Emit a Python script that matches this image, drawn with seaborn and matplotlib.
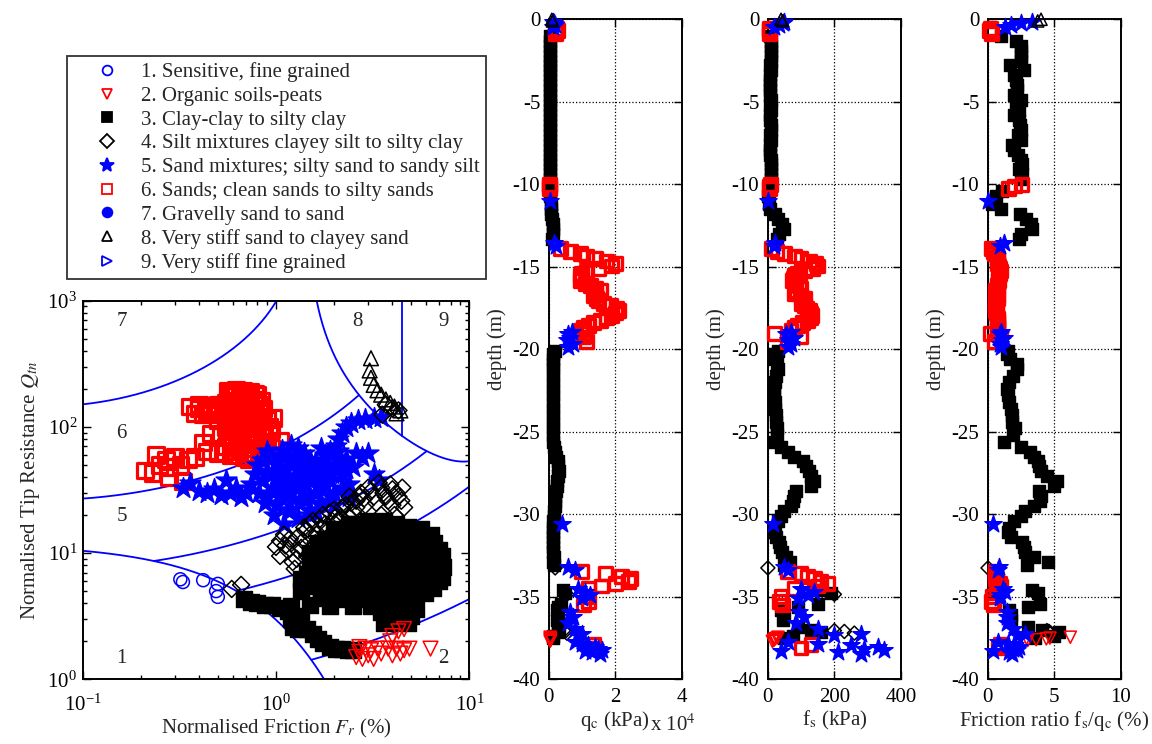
import numpy as np
import pandas as pd
import matplotlib
matplotlib.use("Agg")
import matplotlib.pyplot as plt
from matplotlib.lines import Line2D
from matplotlib.ticker import FuncFormatter, LogLocator, NullFormatter
import seaborn as sns

# ---------------- data ----------------
zone_names = ["1. Sensitive, fine grained",
              "2. Organic soils-peats",
              "3. Clay-clay to silty clay",
              "4. Silt mixtures clayey silt to silty clay",
              "5. Sand mixtures; silty sand to sandy silt",
              "6. Sands; clean sands to silty sands",
              "7. Gravelly sand to sand",
              "8. Very stiff sand to clayey sand",
              "9. Very stiff fine grained"]

# Robertson chart boundaries (Ic contours, zone 1 and zone 8/9 limits)
ic_limits = [1.31, 2.05, 2.60, 2.95, 3.60]
fr_zone89_split = 4.5

# CPT profile per soil zone: depth (m), qc (kPa), fs (kPa)
depth_z3 = [1.0, 1.3, 1.6, 1.9, 2.2, 2.5, 2.8, 3.1, 3.4, 3.7,
            4.0, 4.3, 4.6, 4.9, 5.2, 5.5, 5.8, 6.1, 6.4, 6.7,
            7.0, 7.3, 7.6, 7.9, 8.2, 8.5, 8.8, 9.1, 9.4, 9.7,
            10.4, 10.7, 11.2, 11.5, 11.8, 12.1, 12.4, 12.7, 13.0, 13.3,
            20.1, 20.3, 20.6, 20.9, 21.2, 21.6, 22.0, 22.4, 22.8, 23.2,
            23.6, 24.0, 24.4, 24.8, 25.2, 25.6, 25.9, 26.2, 26.5, 26.8,
            27.1, 27.4, 27.7, 28.0, 28.3, 28.6, 28.9, 29.2, 29.5, 29.8,
            30.1, 30.4, 30.8, 31.1, 31.4, 31.7, 32.0, 32.3, 32.6, 32.9,
            33.1, 34.6, 34.75, 35.45, 35.6, 35.8, 36.1, 36.4, 36.85, 37.0,
            37.15, 37.35, 37.5]
qc_z3 = [600, 420, 380, 360, 350, 340, 360, 350, 330, 350,
         340, 360, 350, 340, 350, 360, 350, 340, 350, 360,
         350, 340, 350, 360, 350, 340, 350, 360, 350, 340,
         330, 340, 700, 800, 900, 1100, 1300, 1500, 1400, 1200,
         2000, 1500, 1300, 1300, 1400, 1300, 1300, 1400, 1300, 1400,
         1300, 1400, 1300, 1400, 1400, 1500, 1600, 1900, 2300, 2800,
         3000, 3100, 2900, 2700, 2600, 2200, 2000, 1900, 2000, 1800,
         1600, 1500, 1400, 1300, 1400, 1300, 1400, 1500, 1600, 1500,
         1700, 4500, 5000, 3800, 3000, 2500, 2800, 2600, 3000, 3200,
         3000, 1500, 1400]
fs_z3 = [6, 9, 9.5, 9, 8.8, 8.5, 6, 9.5, 6.5, 7.5,
         7.5, 8, 7, 8.5, 7.5, 8.5, 7, 8, 8.5, 9,
         8, 8.5, 6.5, 7, 8, 8.5, 9, 8.5, 9, 8.5,
         3.5, 2, 2.5, 8, 22, 32, 42, 50, 35, 28,
         30, 22, 22, 29, 31, 25, 21, 20, 20, 22,
         23, 26, 24, 29, 27, 18, 40, 60, 80, 105,
         115, 125, 130, 140, 130, 85, 80, 75, 70, 50,
         40, 30, 22, 20, 24, 33, 38, 42, 55, 68,
         50, 150, 190, 150, 90, 40, 48, 45, 90, 130,
         160, 75, 50]

depth_z6 = [0.55, 0.70, 0.85, 10.0, 10.1, 10.25,
            13.90, 14.05, 14.20, 14.35, 14.50, 14.65, 14.80, 14.95, 15.10, 15.25,
            15.40, 15.55, 15.70, 15.85, 16.00, 16.15, 16.30, 16.45, 16.60, 16.75,
            16.90, 17.05, 17.20, 17.35, 17.50, 17.65, 17.80, 17.95, 18.10, 18.25,
            18.40, 18.55, 18.70, 18.85, 19.05, 19.25, 19.55,
            33.45, 33.6, 33.75, 33.9, 34.05, 34.2, 34.35, 34.5, 35.0, 35.3, 35.5, 37.9, 38.1]
qc_z6 = [2500, 2800, 2000, 350, 300, 320,
         3500, 6500, 9500, 11500, 14000, 17500, 20000, 19000, 15000, 11500,
         10000, 9500, 10000, 9500, 11000, 12500, 14000, 15500, 14000, 13500,
         14500, 15000, 16500, 18500, 20500, 21000, 20000, 19000, 17500, 15500,
         13500, 12000, 10500, 9500, 11000, 10500, 11500,
         10000, 17000, 22000, 24500, 24000, 20000, 16000, 12000, 11500, 12000, 10500, 13500, 12500]
fs_z6 = [5, 4, 6, 9, 6, 5,
         10, 28, 50, 80, 100, 125, 145, 150, 135, 110,
         90, 80, 78, 75, 85, 95, 98, 85, 80, 100,
         112, 105, 100, 110, 118, 125, 130, 132, 128, 120,
         105, 90, 80, 70, 20, 100, 60,
         60, 100, 120, 140, 160, 180, 150, 80, 40, 35, 45, 130, 100]

depth_z5 = [0.15, 0.25, 0.35, 0.45, 11.0, 13.55, 13.75,
            18.95, 19.1, 19.3, 19.45, 19.65, 19.85, 30.6, 33.2, 33.35,
            34.5, 34.7, 34.9, 35.1, 35.9, 36.25, 36.6, 36.95, 37.25, 37.3,
            37.75, 37.85, 37.95, 38.05, 38.15, 38.25, 38.3, 38.35, 38.45]
qc_z5 = [1500, 1800, 2000, 1500, 600, 1800, 2200,
         7000, 6000, 6500, 5500, 7500, 6000, 4000, 6000, 8000,
         9000, 11000, 12500, 10000, 6500, 7500, 6000, 8000, 10000, 9000,
         8000, 10000, 12000, 14000, 15000, 16000, 11000, 13000, 15500]
fs_z5 = [50, 45, 35, 20, 0.3, 22, 20,
         70, 55, 80, 60, 70, 60, 15, 50, 60,
         100, 140, 120, 90, 95, 110, 85, 150, 280, 200,
         60, 150, 250, 330, 290, 350, 40, 210, 280]

depth_z4 = [33.25, 34.85, 37.05, 37.1, 37.2]
qc_z4 = [2000, 5500, 4500, 5000, 5500]
fs_z4 = [0.5, 200, 200, 230, 260]

depth_z2 = [37.45, 37.5, 37.55, 37.6, 37.65, 37.7]
qc_z2 = [500, 600, 500, 550, 600, 500]
fs_z2 = [31, 28, 22, 20, 18, 14]

depth_z8 = [0.0, 0.1]
qc_z8 = [1000, 1200]
fs_z8 = [40, 45]

# normalised points on the SBT chart: Fr (%), Qtn
fr_z6 = [0.56, 0.62, 0.68, 0.74, 0.80, 0.60, 0.70, 0.78,
         0.36, 0.40, 0.45, 0.50, 0.55, 0.38, 0.44, 0.50,
         0.58, 0.66, 0.74, 0.82, 0.85, 0.60, 0.68, 0.76,
         0.55, 0.62, 0.72, 0.80, 0.58, 0.66, 0.76, 0.52,
         0.60, 0.64, 0.80, 0.87, 0.55, 0.64, 0.75, 0.85, 0.95,
         0.50, 0.58, 0.68, 0.78, 0.90, 0.72,
         0.97, 1.05, 0.95, 0.46, 0.42, 0.44, 0.38, 0.35, 0.30, 0.27, 0.25, 0.24, 0.21, 0.23, 0.28, 0.33, 0.32, 0.28,
         0.58, 0.65, 0.72, 0.78, 0.56, 0.63, 0.70, 0.77, 0.84,
         0.54, 0.62, 0.70, 0.78, 0.86, 0.57, 0.64, 0.70, 0.77, 0.84, 0.90,
         0.55, 0.62, 0.69, 0.76, 0.84, 0.92, 0.56, 0.63, 0.70, 0.78, 0.84,
         0.58, 0.66, 0.80, 0.90, 0.54, 0.62, 0.74, 0.84,
         0.40, 0.46, 0.42, 0.48, 0.53, 0.50]
qtn_z6 = [195, 198, 195, 190, 180, 175, 172, 165,
          145, 150, 148, 150, 155, 128, 132, 135,
          140, 150, 145, 150, 130, 120, 125, 122,
          110, 105, 108, 105, 95, 92, 90, 85,
          80, 76, 82, 90, 70, 68, 68, 70, 68,
          62, 60, 58, 58, 60, 55,
          118, 78, 95, 89, 75, 64, 58, 55, 58, 55, 50, 60, 45, 43, 40, 37, 50, 48,
          185, 185, 185, 183, 160, 160, 160, 158, 160,
          138, 138, 138, 136, 140, 116, 116, 116, 116, 116, 114,
          100, 98, 100, 98, 100, 100, 86, 86, 86, 86, 84,
          75, 74, 74, 76, 63, 64, 62, 63,
          140, 140, 125, 125, 125, 112]

fr_z5 = [0.33, 0.36, 0.40, 0.44, 0.48, 0.52, 0.55, 0.58, 0.62, 0.66, 0.70, 0.74,
         0.78, 0.80, 0.82, 0.86, 0.88, 0.90, 0.92, 0.95, 0.98, 1.00, 1.02, 1.05,
         1.08, 1.10, 1.12, 1.15, 1.18, 1.20, 1.25, 1.30, 1.32, 1.35, 1.40, 1.45,
         1.50, 1.55, 1.60, 1.62, 1.70, 1.75, 1.80, 1.85, 1.90, 2.00, 2.00, 2.10,
         2.20, 2.30, 2.40, 2.50, 2.60, 2.80, 3.00, 3.20, 3.40,
         2.10, 2.20, 2.30, 2.45, 2.65, 2.90, 3.20, 3.50, 1.10, 1.30, 1.50,
         0.85, 0.90, 0.95, 1.00, 1.00, 1.05, 1.10, 1.15, 1.15, 1.20, 1.25, 1.28,
         1.35, 1.38, 1.42, 1.50, 1.50, 1.55, 1.60, 1.65, 1.70, 1.75, 1.80, 1.85,
         1.95, 2.00, 2.10, 2.20, 2.30, 2.40, 2.05, 1.90, 1.70, 1.30, 1.20, 0.90]
qtn_z5 = [33, 36, 31, 30, 32, 29, 38, 30, 33, 28, 30, 35,
          42, 50, 30, 38, 25, 45, 60, 33, 20, 52, 40, 28,
          66, 35, 46, 22, 58, 30, 40, 50, 25, 34, 62, 44,
          28, 38, 52, 21, 32, 45, 60, 26, 38, 50, 30, 64,
          42, 56, 35, 48, 62, 58, 62, 42, 38,
          80, 90, 100, 108, 113, 116, 118, 120, 17, 19, 20,
          55, 28, 42, 24, 32, 48, 58, 30, 40, 22, 52, 33,
          45, 27, 36, 55, 22, 46, 30, 40, 25, 55, 35, 48,
          42, 24, 55, 33, 46, 28, 70, 65, 68, 68, 72, 65]

fr_z4 = [0.59, 0.66, 1.00, 1.05, 1.10, 1.15, 1.20, 1.25, 1.28, 1.30,
         1.35, 1.40, 1.45, 1.50, 1.55, 1.60, 1.70, 1.75, 1.85, 1.95,
         2.00, 2.15, 2.30, 2.40, 2.50, 2.60, 2.75, 2.90, 3.00, 3.20,
         3.40, 3.60, 3.80, 4.00, 4.30, 4.60, 3.50, 4.10, 3.70, 4.00, 4.30, 3.55,
         1.05, 1.12, 1.18, 1.22, 1.30, 1.38, 1.42, 1.50, 1.62, 1.68,
         1.80, 1.90, 2.05, 2.20, 2.35, 2.45, 2.60, 2.70, 2.85, 3.10,
         3.30, 3.50, 3.70, 3.90, 4.20, 4.45, 4.00, 4.50]
qtn_z4 = [5.2, 5.6, 11.2, 12.5, 14.0, 10.5, 12.0, 7.5, 9.0, 13.5,
          11.0, 16.0, 9.5, 14.0, 18.0, 12.0, 16.0, 20.0, 15.0, 18.0,
          22.0, 19.0, 24.0, 28.0, 21.0, 26.0, 30.0, 24.0, 33.0, 28.0,
          36.0, 30.0, 26.0, 32.0, 28.0, 23.0, 20.0, 20.0, 150, 140, 135, 125,
          9.5, 11.5, 13.0, 8.5, 10.5, 12.5, 15.0, 17.0, 14.0, 18.5,
          17.0, 21.0, 19.5, 23.0, 20.0, 25.0, 23.0, 28.0, 27.0, 31.0,
          25.0, 33.0, 28.0, 35.0, 30.0, 26.0, 24.0, 33.0]

fr_z3 = [0.68, 0.74, 0.80, 0.88, 0.95, 1.05, 1.15, 1.20, 1.22, 1.30,
         1.35, 1.45, 1.55, 1.65, 1.75, 1.90, 2.05, 2.20, 2.35, 2.50,
         2.50, 3.20, 3.80,
         1.80, 2.20, 2.80, 3.40, 4.20, 5.00, 6.00,
         1.50, 1.90, 2.40, 3.00, 3.60, 4.40, 5.20, 6.20, 7.00,
         1.60, 2.10, 2.70, 3.30, 4.00, 4.80, 5.80, 6.80,
         1.45, 1.80, 2.30, 2.90, 3.50, 4.20, 5.00, 6.00, 7.20,
         1.50, 1.90, 2.40, 3.00, 3.70, 4.50, 5.40, 6.50,
         1.70, 2.20, 2.80, 3.50, 4.30, 5.20,
         3.50, 4.30, 5.00, 3.60, 4.30, 4.80,
         2.00, 2.80, 3.50, 4.50, 5.50,
         1.65, 2.10, 2.60, 3.20, 4.00, 4.80, 5.70, 6.60,
         1.50, 1.80, 2.20, 2.70, 3.30, 4.00, 4.80, 5.70, 6.60, 7.20,
         1.50, 1.90, 2.40, 3.00, 3.60, 4.40, 5.30, 6.40, 7.30,
         1.35, 1.65, 2.10, 2.60, 3.20, 3.90, 4.80, 5.80, 7.00,
         1.35, 1.70, 2.10, 2.60, 3.30, 4.00, 4.90, 5.90,
         1.20, 1.50, 1.90, 2.50, 3.10, 3.90, 4.70, 5.30,
         2.40, 3.00, 3.60, 4.20, 4.80, 5.60, 6.30]
qtn_z3 = [4.3, 4.1, 4.0, 3.9, 3.9, 3.7, 3.5, 3.0, 2.6, 2.5,
          3.2, 2.5, 2.3, 2.1, 1.95, 1.8, 1.75, 1.75, 1.72, 1.7,
          17, 16, 15,
          13, 14, 14, 13.5, 14, 13.5, 13,
          10, 11, 11, 11, 11, 11, 11, 11, 10.5,
          8.5, 9, 9, 9, 9, 9, 9, 8.5,
          6.8, 7, 7.2, 7, 7, 7, 7.2, 7, 6.5,
          5.5, 5.6, 5.5, 5.5, 5.5, 5.5, 5.5, 5.3,
          4.4, 4.3, 4.3, 4.3, 4.2, 4.2,
          3.4, 3.3, 3.2, 2.8, 2.8, 2.8,
          15.5, 16, 15.5, 15, 14.5,
          12, 12.5, 12.5, 12.5, 12.5, 12.5, 12, 12,
          9.5, 10, 10, 10, 10, 10, 10, 10, 9.8, 9.5,
          7.8, 8, 8, 8, 8, 8, 8, 7.8, 7.8,
          6.2, 6.2, 6.3, 6.2, 6.2, 6.2, 6.2, 6.2, 6.0,
          5.0, 4.9, 4.9, 4.9, 4.9, 4.9, 4.9, 4.8,
          3.8, 3.9, 3.8, 3.8, 3.8, 3.8, 3.7, 3.6,
          17, 18, 18, 17, 16, 15.5, 14]

fr_z2 = [2.6, 2.7, 2.8, 2.9, 3.0, 3.1, 3.2, 3.35, 3.5, 3.8, 4.0,
         4.2, 4.4, 4.6, 4.9, 4.0, 4.3, 4.6, 3.9, 6.3, 2.7]
qtn_z2 = [1.5, 1.65, 1.45, 1.75, 1.55, 1.7, 1.45, 1.75, 1.6, 1.75, 1.55,
          1.75, 1.6, 1.7, 1.75, 2.2, 2.4, 2.5, 2.0, 1.75, 1.8]

fr_z1 = [0.32, 0.33, 0.42, 0.50, 0.49, 0.50]
qtn_z1 = [6.2, 5.9, 6.1, 5.7, 5.0, 4.5]

fr_z8 = [3.10, 3.05, 3.10, 3.20, 3.35, 3.50, 3.70, 3.90, 4.10, 4.40, 4.20]
qtn_z8 = [350, 280, 245, 215, 195, 180, 165, 155, 145, 135, 128]

# ---------------- style ----------------
sns.set_style("ticks")
plt.rcParams["font.family"] = ["Liberation Serif", "DejaVu Serif"]
plt.rcParams["mathtext.fontset"] = "stix"
plt.rcParams["axes.unicode_minus"] = False
plt.rcParams["font.size"] = 15

BLUE, RED, BLACK = "#0000ff", "#ff0000", "#000000"
styles = {1: ("o", BLUE, False), 2: ("v", RED, False), 3: ("s", BLACK, True),
          4: ("D", BLACK, False), 5: ("*", BLUE, True), 6: ("s", RED, False),
          7: ("o", BLUE, True), 8: ("^", BLACK, False), 9: (">", BLUE, False)}
mscale = {"o": 0.7, "v": 0.9, "s": 1.0, "D": 0.6, "*": 2.0, "^": 0.9, ">": 0.9}


def draw_points(ax, x, y, zone, base, lw=1.1, clip=True):
    marker, col, filled = styles[zone]
    sns.scatterplot(x=x, y=y, ax=ax, marker=marker, s=base * mscale[marker],
                    color=col, facecolor=col if filled else "none", edgecolor=col,
                    linewidth=lw, legend=False, clip_on=clip, zorder=3)


def style_axes(ax):
    for sp in ax.spines.values():
        sp.set_linewidth(1.4)
        sp.set_color("black")
    ax.tick_params(which="both", direction="in", top=True, right=True,
                   colors="black", labelsize=15, width=1.0)
    ax.tick_params(which="major", length=6)
    ax.tick_params(which="minor", length=3)


W, H = 1152, 744
fig = plt.figure(figsize=(11.52, 7.44), dpi=100)

# ---------------- SBT chart ----------------
ax = fig.add_axes([82.7 / W, 1 - 679.3 / H, 386.6 / W, 378.6 / H])
ax.set_xscale("log")
ax.set_yscale("log")

f = np.logspace(-1, 1, 1500)
q1 = 12.0 * np.exp(-1.4 * f)
den = 0.005 * (f - 1) - 0.0003 * (f - 1) ** 2 - 0.002
q8 = np.where(den > 0, 1.0 / np.where(den > 0, den, 1.0), np.inf)
for ic in ic_limits:
    r = ic ** 2 - (np.log10(f) + 1.22) ** 2
    lq = np.where(r >= 0, 3.47 - np.sqrt(np.clip(r, 0, None)), np.nan)
    q = 10 ** lq
    q = np.where((q > q1) & (q < q8) & (q <= 1000), q, np.nan)
    ax.plot(f, q, color=BLUE, lw=1.3, zorder=2)
ax.plot(f, np.where(q1 >= 1, q1, np.nan), color=BLUE, lw=1.3, zorder=2)
ax.plot(f, np.where(q8 <= 1000, q8, np.nan), color=BLUE, lw=1.3, zorder=2)
q8_split = 1.0 / (0.005 * (fr_zone89_split - 1) - 0.0003 * (fr_zone89_split - 1) ** 2 - 0.002)
ax.plot([fr_zone89_split, fr_zone89_split], [q8_split, 1000], color=BLUE, lw=1.3, zorder=2)

sbt_sets = [(6, fr_z6, qtn_z6, 2.3), (5, fr_z5, qtn_z5, 1.0), (3, fr_z3, qtn_z3, 1.0),
            (4, fr_z4, qtn_z4, 1.1), (2, fr_z2, qtn_z2, 1.1), (1, fr_z1, qtn_z1, 1.1),
            (8, fr_z8, qtn_z8, 1.1)]
for z, xf, yq, lw in sbt_sets:
    draw_points(ax, xf, yq, z, 125, lw=lw)

for txt, (xx, yy) in {"7": (0.159, 682), "6": (0.159, 88), "5": (0.159, 19.5), "1": (0.159, 1.47),
                      "8": (2.64, 682), "9": (7.35, 682), "2": (7.35, 1.47)}.items():
    ax.text(xx, yy, txt, ha="center", va="center", fontsize=15)

ax.set_xlim(0.1, 10)
ax.set_ylim(1, 1000)
ax.xaxis.set_minor_locator(LogLocator(base=10, subs=np.arange(2, 10)))
ax.yaxis.set_minor_locator(LogLocator(base=10, subs=np.arange(2, 10)))
ax.xaxis.set_minor_formatter(NullFormatter())
ax.yaxis.set_minor_formatter(NullFormatter())
style_axes(ax)
ax.tick_params(axis="x", pad=11)
ax.tick_params(axis="y", pad=4)
ax.set_xlabel("Normalised Friction $F_r$ (%)", fontsize=15, labelpad=1)
ax.set_ylabel("Normalised Tip Resistance $Q_{tn}$", fontsize=15, labelpad=4)

# ---------------- legend ----------------
handles = []
for z in range(1, 10):
    marker, col, filled = styles[z]
    handles.append(Line2D([], [], linestyle="none", marker=marker,
                          markersize=10 if marker == "*" else 7,
                          markerfacecolor=col if filled else "none",
                          markeredgecolor=col, markeredgewidth=1.3))
leg = fig.legend(handles, zone_names, loc="upper left",
                 bbox_to_anchor=(67 / W, 1 - 56 / H), bbox_transform=fig.transFigure,
                 fontsize=15, frameon=True, fancybox=False, borderaxespad=0,
                 borderpad=0.3, handlelength=3.2, handletextpad=0.05, labelspacing=0.2)
leg.get_frame().set_edgecolor("black")
leg.get_frame().set_linewidth(1.3)

# ---------------- depth profiles ----------------
profile_sets = [(3, depth_z3, qc_z3, fs_z3, 1.0), (4, depth_z4, qc_z4, fs_z4, 1.1),
                (6, depth_z6, qc_z6, fs_z6, 2.4), (2, depth_z2, qc_z2, fs_z2, 1.1),
                (5, depth_z5, qc_z5, fs_z5, 1.0), (8, depth_z8, qc_z8, fs_z8, 1.1)]
frames = []
for z, d, q, s, lw in profile_sets:
    df = pd.DataFrame({"depth": -np.array(d, float), "qc": q, "fs": s})
    df["rf"] = df["fs"] / df["qc"] * 100.0
    frames.append((z, df, lw))

panels = [("qc", 548.5, (0, 40000), [0, 20000, 40000], "q$_\\mathrm{c}$ (kPa)"),
          ("fs", 767.7, (0, 400), [0, 200, 400], "f$_\\mathrm{s}$ (kPa)"),
          ("rf", 987.7, (0, 10), [0, 5, 10], "Friction ratio f$_\\mathrm{s}$/q$_\\mathrm{c}$ (%)")]
for col, left, xlim, xt, xlabel in panels:
    axp = fig.add_axes([left / W, 1 - 679.3 / H, 133.3 / W, 660 / H])
    for z, df, lw in frames:
        draw_points(axp, df[col], df["depth"], z, 85, lw=lw, clip=False)
    axp.set_xlim(*xlim)
    axp.set_ylim(-40, 0)
    axp.set_xticks(xt)
    axp.set_yticks(np.arange(-40, 1, 5))
    if col == "qc":
        axp.xaxis.set_major_formatter(FuncFormatter(lambda v, p: f"{v / 1e4:g}"))
    else:
        axp.xaxis.set_major_formatter(FuncFormatter(lambda v, p: f"{v:g}"))
    axp.yaxis.set_major_formatter(FuncFormatter(lambda v, p: f"{v:g}"))
    axp.grid(True, which="major", linestyle=":", color="black", linewidth=0.9)
    axp.set_axisbelow(True)
    style_axes(axp)
    axp.tick_params(axis="x", pad=6)
    axp.tick_params(axis="y", pad=6)
    axp.set_xlabel(xlabel, fontsize=15, labelpad=2)
    axp.set_ylabel("depth (m)", fontsize=15, labelpad=4)

fig.text(650 / W, 1 - 725 / H, "x 10$^4$", ha="left", va="center", fontsize=15)

fig.savefig("out.png", dpi=100)
